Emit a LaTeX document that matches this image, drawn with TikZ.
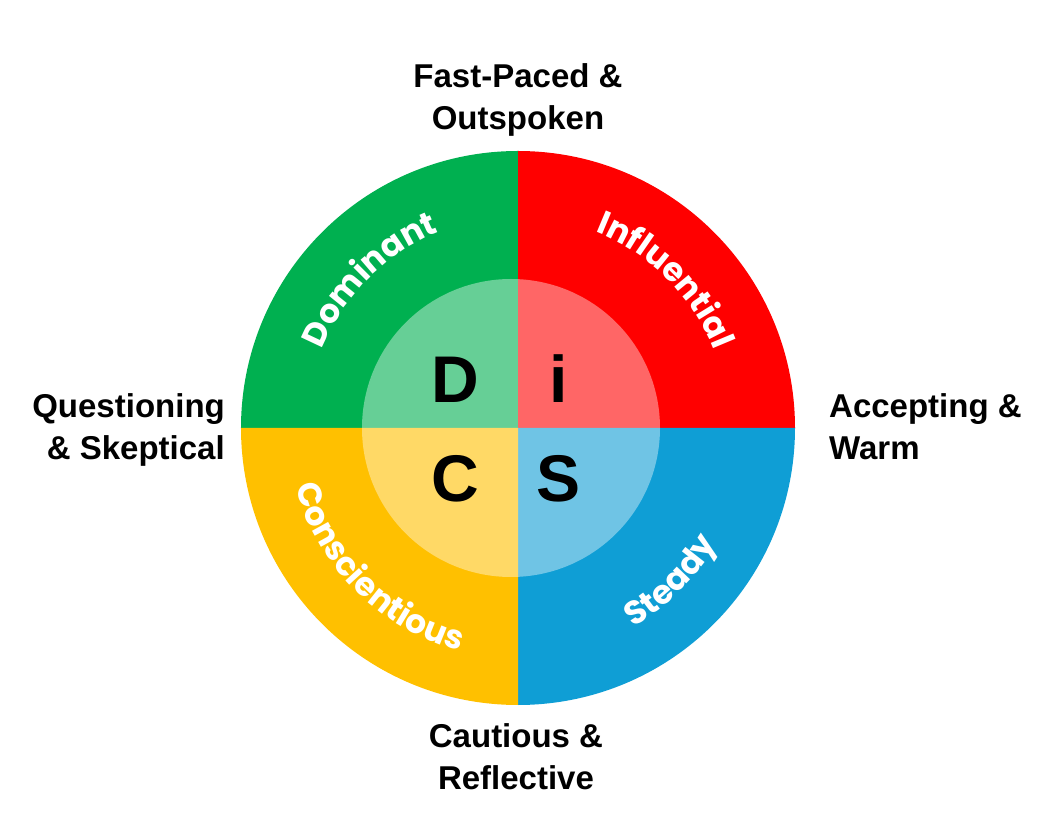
\documentclass[tikz,border=0pt]{standalone}
\usepackage{fontspec}
\setmainfont{Liberation Sans}
\newfontfamily\bandfont{Poppins}
\usepackage{tikz}
\usetikzlibrary{positioning,
        decorations.text}
\usepackage{xcolor}
\definecolor{discgreen}{HTML}{00B050}
\definecolor{discred}{HTML}{FF0000}
\definecolor{discyellow}{HTML}{FFC000}
\definecolor{discblue}{HTML}{0F9ED5}

\tikzset{
        bigletter/.style={font=\fontsize{66}{66}\selectfont\bfseries,anchor=base,inner sep=0pt},
        sidelabel/.style={font=\fontsize{33}{42}\selectfont\bfseries,inner sep=0pt},
        bandtext/.style={decorate,decoration={text along path,text align=center,
                text color=white,text={|\bandfont\bfseries\fontsize{33}{33}\selectfont|#1}}}
}

\begin{document}
\begin{tikzpicture}
        \useasboundingbox (-518pt,-406pt) rectangle (544pt,428pt);
        \coordinate (o) at (0,0);

        \fill[discgreen] (o) -- (180:277pt) arc[start angle=180,end angle=90,radius=277pt] -- cycle;
        \fill[discred] (o) -- (90:277pt) arc[start angle=90,end angle=0,radius=277pt] -- cycle;
        \fill[discblue] (o) -- (0:277pt) arc[start angle=0,end angle=-90,radius=277pt] -- cycle;
        \fill[discyellow] (o) -- (270:277pt) arc[start angle=270,end angle=180,radius=277pt] -- cycle;
        \fill[white,fill opacity=0.4] (-7pt,0pt) circle[radius=149pt];

        \path[bandtext={Dominant}] (180:211pt) arc[start angle=180,end angle=90,radius=211pt];
        \path[bandtext={Influential}] (90:211pt) arc[start angle=90,end angle=0,radius=211pt];
        \path[bandtext={Conscientious}] (180:230pt) arc[start angle=180,end angle=270,radius=230pt];
        \path[bandtext={Steady}] (270:230pt) arc[start angle=270,end angle=360,radius=230pt];

        \node [bigletter] (d) at (-63pt,25pt) {D};
        \node [bigletter] (i) at (41pt,25pt) {i};
        \node [bigletter] (c) at (-63pt,-74pt) {C};
        \node [bigletter] (s) at (41pt,-74pt) {S};

        \node [sidelabel,align=center,anchor=base] (fast) at (0pt,298pt) {Fast-Paced \&\\Outspoken};
        \node [sidelabel,align=right,anchor=base east] (question) at (-293pt,-32pt) {Questioning\\\& Skeptical};
        \node [sidelabel,align=left,anchor=base west] (accept) at (311pt,-32pt) {Accepting \&\\Warm};
        \node [sidelabel,align=center,anchor=base] (cautious) at (-2pt,-361pt) {Cautious \&\\Reflective};
\end{tikzpicture}
\end{document}
